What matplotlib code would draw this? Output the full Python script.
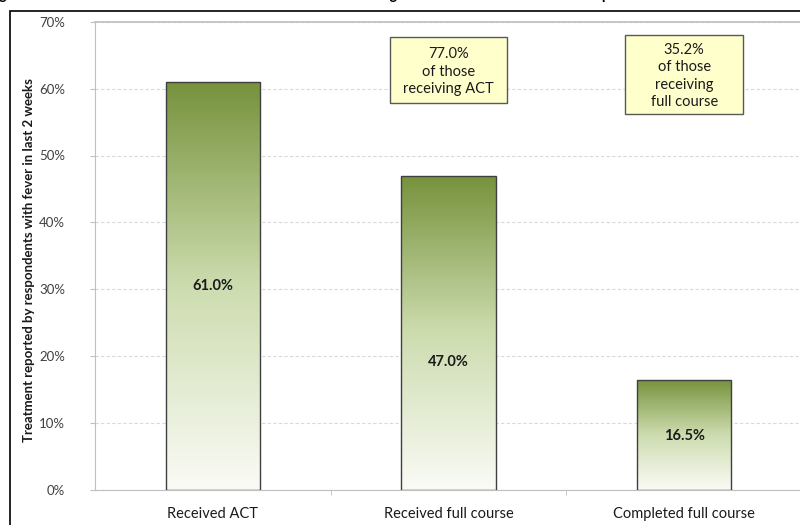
import numpy as np
import matplotlib.pyplot as plt
from matplotlib.colors import LinearSegmentedColormap
from matplotlib.patches import Rectangle

plt.rcParams['font.family'] = ['Lato', 'DejaVu Sans']

# data
categories = ['Received ACT', 'Received full course', 'Completed full course']
values = [61.0, 47.0, 16.5]
label_pos = [30.5, 19.2, 8.0]   # where the value labels sit (in %)
notes = ['77.0%\nof those\nreceiving ACT', '35.2%\nof those\nreceiving\nfull course']
note_bars = [1, 2]
note_top = [67.7, 68.0]
note_bottom = [57.8, 56.2]
yticks = [0, 10, 20, 30, 40, 50, 60, 70]

fig = plt.figure(figsize=(8, 5.25), dpi=100)
ax = fig.add_axes([95/800, 1 - 490/525, 707/800, (490 - 21.7)/525])

# green -> white gradient inside each bar
cmap = LinearSegmentedColormap.from_list('grn', [(0.0, '#fafbf6'), (0.5, '#cddcaf'), (1.0, '#76923c')])
grad = np.linspace(0, 1, 256).reshape(-1, 1)
width = 0.40
x = np.arange(len(categories))
bars = ax.bar(x, values, width=width, color='none', edgecolor='#3f3f3f', linewidth=1.0, zorder=3)
for b in bars:
    x0, y0 = b.get_x(), b.get_y()
    im = ax.imshow(grad, cmap=cmap, aspect='auto', origin='lower',
                   extent=[x0, x0 + b.get_width(), y0, y0 + b.get_height()], zorder=2)
    im.set_clip_path(b)

for xi, v, lp in zip(x, values, label_pos):
    ax.text(xi, lp, '%.1f%%' % v, ha='center', va='center', fontsize=10.5,
            fontweight='bold', color='#1a1a1a', zorder=4)

ax.set_xlim(-0.5, len(categories) - 0.5)
ax.set_ylim(0, 70)
ax.set_yticks(yticks)
ax.set_yticklabels(['%d%%' % t for t in yticks], fontsize=9.5, color='#404040')
ax.set_xticks(x)
ax.set_xticklabels(categories, fontsize=10.5, color='#1a1a1a')
ax.tick_params(axis='x', length=0, pad=12)
ax.set_xticks([0.5, 1.5], minor=True)
ax.tick_params(axis='x', which='minor', length=3.6, color='#bfbfbf', direction='out')
ax.tick_params(axis='y', length=3.6, color='#bfbfbf', pad=18)

ax.grid(axis='y', linestyle=(0, (3, 2)), color='#d9d9d9', linewidth=0.8, zorder=0)
ax.set_axisbelow(True)
for s in ['left', 'bottom', 'top']:
    ax.spines[s].set_color('#bfbfbf')
ax.spines['top'].set_linewidth(1.2)
ax.spines['right'].set_visible(False)

ax.set_ylabel('Treatment reported by respondents with fever in last 2 weeks',
              fontsize=9.5, fontweight='bold', color='#1a1a1a')
ax.yaxis.set_label_coords(-60/707, 0.49)

# note boxes above the 2nd and 3rd bars
box_w = 0.50
for nb, txt, top, bot in zip(note_bars, notes, note_top, note_bottom):
    ax.add_patch(Rectangle((x[nb] - box_w/2, bot), box_w, top - bot, facecolor='#ffffcc',
                           edgecolor='#595959', linewidth=1.0, zorder=5))
    ax.text(x[nb], (top + bot)/2 - 0.2, txt, ha='center', va='center', fontsize=10.5,
            color='#1a1a1a', linespacing=1.3, zorder=6)

# outer frame of the original figure
fig.patches.append(Rectangle((10/800, -0.1), 1.0, 1 - 11/525 + 0.1, transform=fig.transFigure,
                             facecolor='none', edgecolor='black', linewidth=1.2, clip_on=False))
# cropped caption (only descenders show)
fig.text(-13/800, 1 + 1/525,
         'Figure 4: Received ACT and the full course of treatment among those with fever that then completed the full course',
         fontsize=10.5, fontweight='bold', va='baseline', ha='left')

fig.savefig('out.png', dpi=100)
